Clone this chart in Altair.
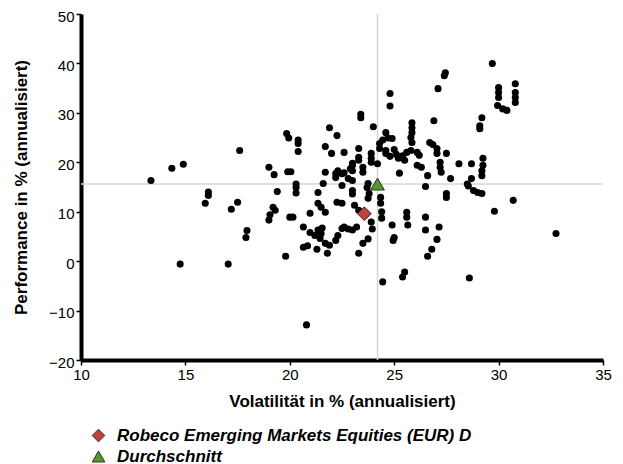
import altair as alt
import pandas as pd

# Peer funds: volatility (x) and performance (y), % annualised
vol = [
    13.35, 14.35, 14.9, 14.75, 15.95, 16.1, 16.1, 17.05, 17.2, 17.5, 17.6, 17.9, 17.95,
    19.0, 19.25, 19.4, 19.0, 19.05, 19.2, 19.3, 19.8, 19.85, 19.95, 19.9, 20.05, 20.0, 20.15,
    20.3, 20.3, 20.3, 20.4, 20.4, 20.4, 20.65, 20.65, 20.85, 20.8, 20.97, 20.97,
    21.35, 21.35, 21.5, 21.7, 21.2, 21.35, 21.55, 21.45, 21.7, 21.9, 21.3, 21.8, 21.7, 21.6,
    21.9, 21.7, 22.0, 21.5,
    22.26, 22.2, 22.2, 22.5, 22.5, 22.6, 22.3, 22.6, 22.8, 22.9, 22.26, 22.5, 22.2, 22.3,
    22.6, 22.8, 23.0, 22.5,
    23.4, 23.4, 23.3, 23.3, 23.3, 23.0, 23.0, 23.0, 23.0, 23.0, 23.0, 23.5, 23.5, 23.7, 23.75,
    23.8, 23.75, 24.0, 23.9, 23.9, 23.9, 23.1, 23.3, 23.9, 23.95, 23.3, 23.5, 23.75, 23.2,
    24.2, 24.3, 24.3, 24.45, 24.6, 24.6, 24.6, 24.8, 24.8, 24.9, 24.35, 24.35, 24.4, 24.4,
    24.45, 24.9, 25.0, 24.95, 24.7, 24.8,
    25.0, 25.1, 25.2, 25.25, 25.5, 25.6, 25.85, 25.85, 25.85, 25.8, 25.85, 25.6, 25.6, 25.65,
    25.5, 25.4, 25.4, 25.8,
    26.1, 26.2, 26.3, 26.6, 26.5, 26.9, 26.7, 26.85, 27.05, 27.05, 26.5, 26.5, 26.8, 26.6, 26.1,
    27.1, 27.4, 27.45, 27.5, 27.2, 27.2, 27.25, 27.7, 27.5, 27.5, 27.15, 27.05,
    28.1, 28.7, 29.25, 29.25, 29.2, 29.2, 28.7, 28.5, 28.55, 28.8, 29.2, 29.0, 29.2, 29.1, 29.1,
    29.7, 29.8, 28.6, 30.0, 30.0, 30.0, 29.95, 30.2, 30.4, 30.8, 30.8, 30.8, 30.8, 30.7, 32.75,
]
perf = [
    16.3, 18.8, 19.6, -0.6, 11.7, 13.3, 14.0, -0.6, 10.5, 11.9, 22.4, 4.8, 6.2,
    19.0, 17.5, 14.1, 8.3, 9.4, 10.9, 10.3, 1.0, 25.8, 24.9, 18.1, 18.1, 8.9, 8.9,
    15.6, 14.9, 13.8, 24.5, 23.8, 22.2, 6.9, 2.8, 3.1, -12.9, 9.7, 5.8,
    13.9, 11.7, 10.9, 9.9, 5.2, 6.3, 6.7, 4.6, 3.6, 3.2, 2.4, 1.6, 18.0, 15.7,
    27.0, 23.2, 21.8, 5.6,
    25.4, 17.7, 16.9, 17.7, 15.3, 22.0, 18.3, 17.9, 16.7, 18.7, 11.9, 11.7, 4.2, 5.2,
    6.9, 6.5, 6.3, 6.6,
    29.7, 29.0, 22.8, 21.0, 20.4, 19.8, 19.4, 18.3, 16.3, 14.3, 13.6, 19.0, 18.0, 14.9, 15.7,
    13.7, 12.7, 27.2, 21.8, 20.8, 20.0, 11.3, 10.3, 7.9, 6.5, 1.6, 3.6, 4.5, 6.9,
    19.7, 23.8, 22.8, 24.5, 26.0, 22.4, 21.8, 33.9, 31.4, 24.8, 12.9, 11.7, 10.0, 8.7,
    -4.2, 7.3, 4.8, 4.2, 24.9, 21.2,
    22.6, 21.6, 20.8, 17.8, 20.4, 22.0, 28.0, 27.0, 26.0, 25.0, 24.0, 9.9, 8.9, 7.3,
    -2.2, -3.2, 21.3, 22.4,
    22.0, 21.4, 19.0, 17.3, 15.1, 28.4, 24.0, 23.6, 22.8, 21.8, 8.9, 6.3, 2.4, 1.0, 19.4,
    34.9, 37.5, 38.1, 21.8, 20.0, 19.0, 18.0, 16.7, 13.7, 12.9, 6.9, 4.4,
    19.7, 19.7, 20.8, 19.4, 18.3, 17.3, 16.7, 15.6, 15.2, 14.3, 13.7, 13.9, 29.0, 27.4, 26.8,
    40.0, 10.1, -3.4, 35.1, 34.1, 33.1, 31.5, 30.8, 30.5, 35.9, 34.1, 33.1, 32.1, 12.3, 5.6,
]

special_names = ["Robeco Emerging Markets Equities (EUR) D", "Durchschnitt"]
special_vol = [23.57, 24.2]
special_perf = [9.6, 15.6]
special_shapes = ["diamond", "triangle-up"]
special_colors = ["#c0403c", "#4e9a2e"]

avg_vol = 24.2
avg_perf = 15.6

x_ticks = [10, 15, 20, 25, 30, 35]
y_ticks = [-20, -10, 0, 10, 20, 30, 40, 50]

peers = pd.DataFrame({"vol": vol, "perf": perf})
special = pd.DataFrame({"name": special_names, "vol": special_vol, "perf": special_perf})

FONT = "Liberation Sans"

xscale = alt.Scale(domain=[10, 35], nice=False, zero=False)
yscale = alt.Scale(domain=[-20, 50], nice=False, zero=False)

x_axis = alt.Axis(values=x_ticks, title="Volatilität in % (annualisiert)", grid=False, labelFlush=False)
y_axis = alt.Axis(values=y_ticks, title="Performance in % (annualisiert)", grid=False,
                  labelFlush=False, labelOffset=2)

vrule = alt.Chart(pd.DataFrame({"v": [avg_vol]})).mark_rule(
    color="#d6d6d6", strokeWidth=1.5
).encode(x=alt.X("v:Q", scale=xscale, axis=x_axis))

hrule = alt.Chart(pd.DataFrame({"p": [avg_perf]})).mark_rule(
    color="#d6d6d6", strokeWidth=1.5
).encode(y=alt.Y("p:Q", scale=yscale, axis=y_axis))

dots = alt.Chart(peers).mark_circle(size=50, color="black", opacity=1).encode(
    x=alt.X("vol:Q", scale=xscale, axis=x_axis),
    y=alt.Y("perf:Q", scale=yscale, axis=y_axis),
)

marks = alt.Chart(special).mark_point(
    filled=True, opacity=1, stroke="#3a2a2a", strokeWidth=1, size=190
).encode(
    x=alt.X("vol:Q", scale=xscale, axis=x_axis),
    y=alt.Y("perf:Q", scale=yscale, axis=y_axis),
    shape=alt.Shape("name:N", scale=alt.Scale(domain=special_names, range=special_shapes),
                    sort=special_names, legend=alt.Legend(title=None)),
    color=alt.Color("name:N", scale=alt.Scale(domain=special_names, range=special_colors),
                    sort=special_names, legend=alt.Legend(title=None)),
)

chart = alt.layer(vrule, hrule, dots, marks).properties(
    width=522,
    height=346,
    autosize=alt.AutoSizeParams(type="none"),
    padding={"left": 73, "top": 6, "right": 12, "bottom": 104},
).configure_view(
    stroke=None
).configure_axis(
    labelFont=FONT,
    labelFontSize=15,
    labelColor="black",
    titleFont=FONT,
    titleFontSize=17,
    titleFontWeight="bold",
    titleColor="black",
    domainColor="black",
    domainWidth=4,
    tickColor="black",
    tickWidth=1.5,
    tickSize=5,
    labelPadding=2,
).configure_axisX(
    titlePadding=11,
).configure_axisY(
    titlePadding=18,
).configure_legend(
    orient="none",
    legendX=9,
    legendY=413,
    padding=0,
    labelFont=FONT,
    labelFontSize=17,
    labelFontWeight="bold",
    labelFontStyle="italic",
    labelColor="black",
    labelLimit=0,
    symbolSize=160,
    symbolStrokeColor="#3a2a2a",
    symbolStrokeWidth=1,
    symbolType="circle",
    labelOffset=10,
    rowPadding=3,
)

chart.save("out.html", embed_options={"renderer": "svg", "actions": False})
